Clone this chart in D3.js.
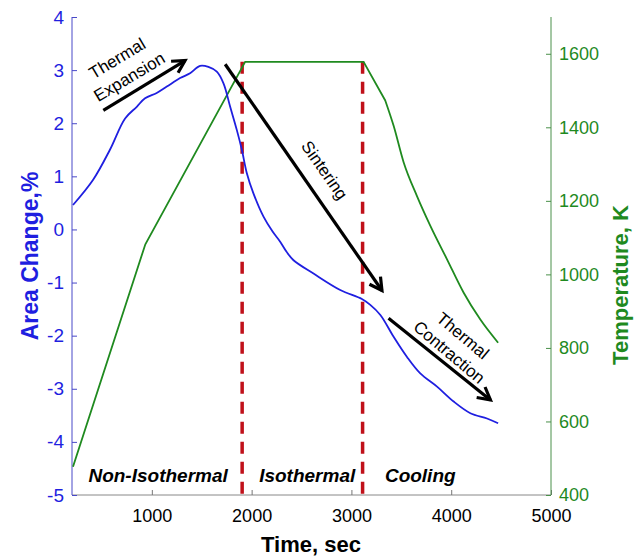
<!DOCTYPE html>
<html>
<head>
<meta charset="utf-8">
<script src="https://cdn.jsdelivr.net/npm/d3@7"></script>
<style>
  body { margin: 0; background: #fff; }
  text { font-family: "Liberation Sans", Arial, sans-serif; }
</style>
</head>
<body>
<div id="grafico"></div>
<script>
const ancho = 641;
const alto = 556;

// Area change (%) vs time (sec)
const tiempoArea = [210, 410, 580, 732, 849, 932, 1049, 1150, 1283, 1383, 1484, 1567, 1651, 1718, 1785, 1852, 1902, 1952, 2018, 2119, 2210, 2286, 2350, 2420, 2620, 2888, 3105, 3189, 3290, 3423, 3557, 3690, 3858, 4024, 4192, 4359, 4470];
const cambioArea = [0.46, 0.93, 1.5, 2.09, 2.31, 2.47, 2.57, 2.69, 2.85, 2.94, 3.08, 3.06, 2.97, 2.75, 2.31, 1.87, 1.5, 1.06, 0.68, 0.24, -0.04, -0.23, -0.42, -0.58, -0.83, -1.14, -1.31, -1.42, -1.61, -2.02, -2.4, -2.71, -2.96, -3.24, -3.46, -3.56, -3.65];

// Temperature (K) vs time (sec)
const tiempoTemp = [210, 935, 1935, 3122, 3339, 3423, 3523, 3657, 3791, 3958, 4125, 4292, 4470];
const temperatura = [477, 1082, 1578, 1578, 1473, 1404, 1305, 1213, 1132, 1041, 950, 877, 814];

const ticksX = [1000, 2000, 3000, 4000, 5000];
const ticksArea = [4, 3, 2, 1, 0, -1, -2, -3, -4, -5];
const ticksTemp = [400, 600, 800, 1000, 1200, 1400, 1600];

// Phase boundaries (sec)
const limitesFase = [1905, 3112];
const fases = [
  { nombre: "Non-Isothermal", t: 1063 },
  { nombre: "Isothermal", t: 2557 },
  { nombre: "Cooling", t: 3690 }
];

// Annotation arrows in data units (time, area %)
const flechas = [
  { t1: 514, v1: 2.24, t2: 1333, v2: 3.18 },
  { t1: 1735, v1: 3.11, t2: 3306, v2: -1.15 },
  { t1: 3372, v1: -1.67, t2: 4393, v2: -3.21 }
];
const textosFlecha = [
  { texto: "Thermal", t: 660, v: 3.2, ang: -31 },
  { texto: "Expansion", t: 782, v: 2.85, ang: -31 },
  { texto: "Sintering", t: 2720, v: 1.1, ang: 55 },
  { texto: "Thermal", t: 4108, v: -2.02, ang: 40 },
  { texto: "Contraction", t: 3971, v: -2.33, ang: 40 }
];

const azul = "#1f1fe0";
const verde = "#1f8a1f";
const formato = d => String(d);

const svg = d3.select("#grafico")
  .append("svg")
  .attr("width", ancho)
  .attr("height", alto);

const x = d3.scaleLinear().domain([200, 5000]).range([72, 551]);
const yArea = d3.scaleLinear().domain([-5, 4]).range([495, 17]);
const yTemp = d3.scaleLinear().domain([400, 1700]).range([495, 17]);

// ejes
const ejeX = svg.append("g").attr("transform", "translate(0,495)")
  .call(d3.axisBottom(x).tickValues(ticksX).tickFormat(formato).tickSize(-5).tickPadding(14));
ejeX.select(".domain").attr("stroke", "#888").attr("d", "M72,0H551");
ejeX.selectAll(".tick line").attr("stroke", "#777");
ejeX.selectAll(".tick text").attr("font-size", 18).attr("fill", "#000");

const ejeIzq = svg.append("g").attr("transform", "translate(72,0)")
  .call(d3.axisLeft(yArea).tickValues(ticksArea).tickFormat(formato).tickSize(-5).tickPadding(8));
ejeIzq.select(".domain").attr("stroke", "#4848c8").attr("d", "M0,17V495");
ejeIzq.selectAll(".tick line").attr("stroke", "#4848c8");
ejeIzq.selectAll(".tick text").attr("font-size", 19).attr("fill", azul);

const ejeDer = svg.append("g").attr("transform", "translate(551,0)")
  .call(d3.axisRight(yTemp).tickValues(ticksTemp).tickFormat(formato).tickSize(-5).tickPadding(8));
ejeDer.select(".domain").attr("stroke", "#4a904a").attr("d", "M0,17V495");
ejeDer.selectAll(".tick line").attr("stroke", "#4a904a");
ejeDer.selectAll(".tick text").attr("font-size", 18).attr("fill", verde);

// lineas de fase
svg.selectAll("line.fase")
  .data(limitesFase)
  .enter().append("line")
  .attr("class", "fase")
  .attr("x1", d => x(d))
  .attr("x2", d => x(d))
  .attr("y1", yTemp(1578))
  .attr("y2", 495)
  .attr("stroke", "#c0101a")
  .attr("stroke-width", 3.5)
  .attr("stroke-dasharray", "12,8");

// curva de temperatura (tramo recto + enfriamiento suave)
const ptsTemp = tiempoTemp.map((t, i) => [t, temperatura[i]]);
const lineaRecta = d3.line().x(d => x(d[0])).y(d => yTemp(d[1]));
const lineaSuave = d3.line().x(d => x(d[0])).y(d => yTemp(d[1])).curve(d3.curveMonotoneX);
svg.append("path")
  .attr("d", lineaRecta(ptsTemp.slice(0, 5)) + lineaSuave(ptsTemp.slice(4)).replace(/^M/, "L"))
  .attr("fill", "none")
  .attr("stroke", verde)
  .attr("stroke-width", 1.8);

// curva de area
const ptsArea = tiempoArea.map((t, i) => [t, cambioArea[i]]);
svg.append("path")
  .datum(ptsArea)
  .attr("d", d3.line().x(d => x(d[0])).y(d => yArea(d[1])).curve(d3.curveCatmullRom))
  .attr("fill", "none")
  .attr("stroke", azul)
  .attr("stroke-width", 1.8);

// flechas
flechas.forEach(f => {
  const x1 = x(f.t1), y1 = yArea(f.v1), x2 = x(f.t2), y2 = yArea(f.v2);
  const ang = Math.atan2(y2 - y1, x2 - x1);
  const largo = 14, abre = 0.5;
  svg.append("line")
    .attr("x1", x1).attr("y1", y1).attr("x2", x2).attr("y2", y2)
    .attr("stroke", "#000").attr("stroke-width", 3.2);
  svg.append("path")
    .attr("d", "M" + (x2 - largo * Math.cos(ang - abre)) + "," + (y2 - largo * Math.sin(ang - abre)) +
      "L" + x2 + "," + y2 +
      "L" + (x2 - largo * Math.cos(ang + abre)) + "," + (y2 - largo * Math.sin(ang + abre)))
    .attr("fill", "none").attr("stroke", "#000").attr("stroke-width", 3.2)
    .attr("stroke-linejoin", "miter");
});

svg.selectAll("text.anot")
  .data(textosFlecha)
  .enter().append("text")
  .attr("class", "anot")
  .attr("transform", d => "translate(" + x(d.t) + "," + yArea(d.v) + ") rotate(" + d.ang + ")")
  .attr("text-anchor", "middle")
  .attr("dominant-baseline", "middle")
  .attr("font-size", 17)
  .text(d => d.texto);

// nombres de fase
svg.selectAll("text.fase")
  .data(fases)
  .enter().append("text")
  .attr("class", "fase")
  .attr("x", d => x(d.t))
  .attr("y", 482)
  .attr("text-anchor", "middle")
  .attr("font-size", 19)
  .attr("font-weight", "bold")
  .attr("font-style", "italic")
  .text(d => d.nombre);

// titulos de ejes
svg.append("text")
  .attr("x", 311).attr("y", 552)
  .attr("text-anchor", "middle")
  .attr("font-size", 22).attr("font-weight", "bold")
  .text("Time, sec");

svg.append("text")
  .attr("transform", "translate(38,256) rotate(-90)")
  .attr("text-anchor", "middle")
  .attr("font-size", 23).attr("font-weight", "bold")
  .attr("fill", azul)
  .text("Area Change,%");

svg.append("text")
  .attr("transform", "translate(628,285) rotate(-90)")
  .attr("text-anchor", "middle")
  .attr("font-size", 22).attr("font-weight", "bold")
  .attr("fill", verde)
  .text("Temperature, K");
</script>
</body>
</html>
